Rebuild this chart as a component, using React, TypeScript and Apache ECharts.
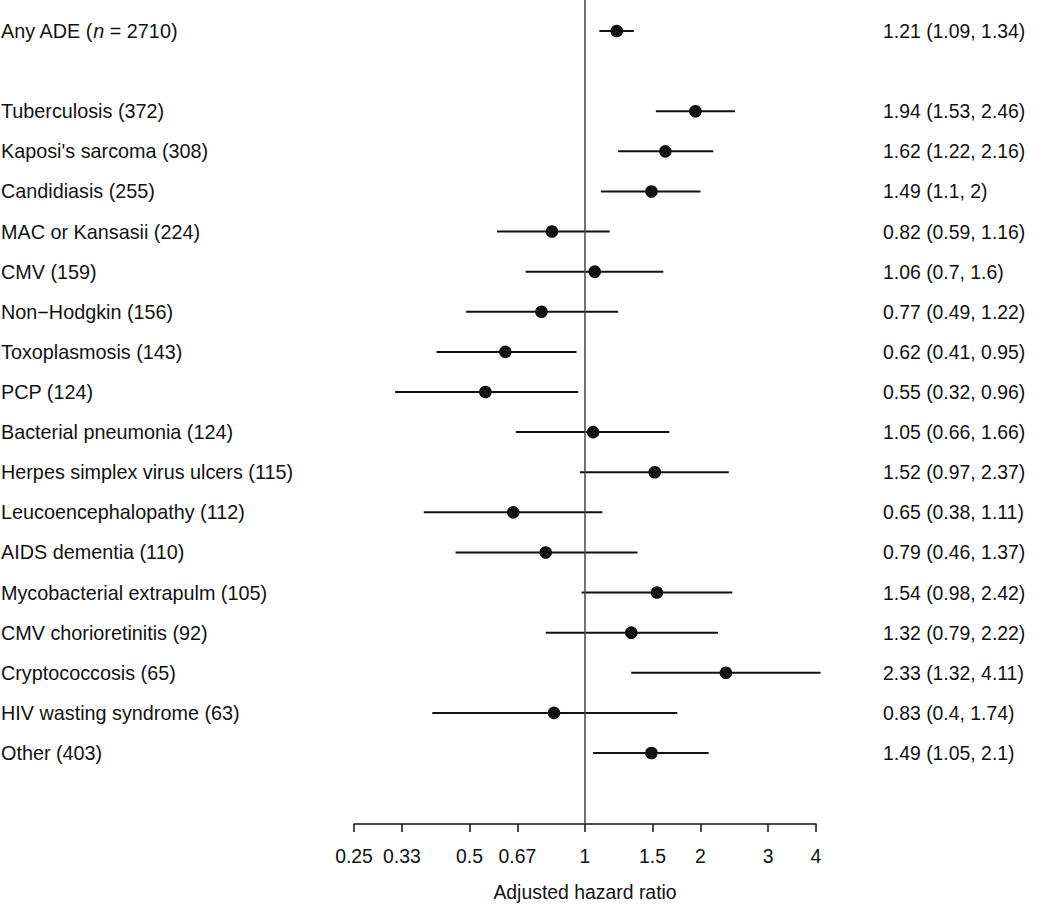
import React, { useEffect, useRef } from "react";
import * as echarts from "echarts";

const names = ["Any ADE", "Tuberculosis", "Kaposi's sarcoma", "Candidiasis", "MAC or Kansasii", "CMV", "Non\u2212Hodgkin", "Toxoplasmosis", "PCP", "Bacterial pneumonia", "Herpes simplex virus ulcers", "Leucoencephalopathy", "AIDS dementia", "Mycobacterial extrapulm", "CMV chorioretinitis", "Cryptococcosis", "HIV wasting syndrome", "Other"];
const counts = [2710, 372, 308, 255, 224, 159, 156, 143, 124, 124, 115, 112, 110, 105, 92, 65, 63, 403];
const hr = [1.21, 1.94, 1.62, 1.49, 0.82, 1.06, 0.77, 0.62, 0.55, 1.05, 1.52, 0.65, 0.79, 1.54, 1.32, 2.33, 0.83, 1.49];
const lo = [1.09, 1.53, 1.22, 1.1, 0.59, 0.7, 0.49, 0.41, 0.32, 0.66, 0.97, 0.38, 0.46, 0.98, 0.79, 1.32, 0.4, 1.05];
const hi = [1.34, 2.46, 2.16, 2, 1.16, 1.6, 1.22, 0.95, 0.96, 1.66, 2.37, 1.11, 1.37, 2.42, 2.22, 4.11, 1.74, 2.1];
const tickValues = [0.25, 1 / 3, 0.5, 2 / 3, 1, 1.5, 2, 3, 4];
const tickLabels = ["0.25", "0.33", "0.5", "0.67", "1", "1.5", "2", "3", "4"];

const FONT = "'Liberation Sans', Arial, Helvetica, sans-serif";
const FS_LEFT = 19.8;
const FS = 19.4;
const INK = "#111";

export default function App() {
  const ref = useRef<HTMLDivElement>(null);
  useEffect(() => {
    if (!ref.current) return;
    const chart = echarts.init(ref.current, null, { renderer: "svg" });
    const l2 = (v: number) => Math.log2(v);
    const data = hr.map((h, i) => [l2(h), i === 0 ? 0 : i + 1, l2(lo[i]), l2(hi[i]), i]);
    const tickLog = tickValues.map(l2);
    const option: any = {
      animation: false,
      grid: { left: 354, right: 234, top: 0, bottom: 80, containLabel: false, outerBoundsMode: "none" },
      xAxis: {
        type: "value",
        position: "bottom",
        min: -2,
        max: 2,
        splitLine: { show: false },
        axisLine: { show: true, onZero: false, lineStyle: { color: INK, width: 1.5 } },
        axisTick: { show: true, customValues: tickLog, length: 8, lineStyle: { color: INK, width: 1.5 } },
        axisLabel: {
          customValues: tickLog,
          margin: 22,
          fontFamily: FONT,
          fontSize: FS,
          color: INK,
          formatter: (v: number) => {
            let best = 0;
            tickLog.forEach((t, k) => { if (Math.abs(t - v) < Math.abs(tickLog[best] - v)) best = k; });
            return tickLabels[best];
          },
        },
        name: "Adjusted hazard ratio",
        nameLocation: "middle",
        nameGap: 58,
        nameTextStyle: { fontFamily: FONT, fontSize: FS, color: INK },
      },
      yAxis: {
        type: "value",
        inverse: true,
        min: -0.773,
        max: 19.77,
        show: false,
      },
      series: [
        {
          type: "custom",
          clip: false,
          encode: { x: [0, 2, 3], y: 1 },
          data,
          renderItem: (params: any, api: any) => {
            const idx = api.value(4);
            const row = api.value(1);
            const p = api.coord([api.value(0), row]);
            const a = api.coord([api.value(2), row]);
            const b = api.coord([api.value(3), row]);
            const label = idx === 0 ? `${names[idx]} ({i|n} = ${counts[idx]})` : `${names[idx]} (${counts[idx]})`;
            const right = `${hr[idx]} (${lo[idx]}, ${hi[idx]})`;
            return {
              type: "group",
              children: [
                { type: "line", shape: { x1: a[0], y1: a[1], x2: b[0], y2: b[1] }, style: { stroke: INK, lineWidth: 2 } },
                { type: "circle", shape: { cx: p[0], cy: p[1], r: 6.3 }, style: { fill: INK } },
                {
                  type: "text",
                  style: {
                    text: label, x: 1, y: p[1], verticalAlign: "middle", align: "left",
                    font: `${FS_LEFT}px ${FONT}`, fill: INK,
                    rich: { i: { fontStyle: "italic", fontFamily: FONT, fontSize: FS_LEFT, fill: INK } },
                  },
                },
                {
                  type: "text",
                  style: { text: right, x: 883, y: p[1], verticalAlign: "middle", align: "left", font: `${FS}px ${FONT}`, fill: INK },
                },
              ],
            };
          },
          markLine: {
            silent: true,
            symbol: "none",
            label: { show: false },
            lineStyle: { color: "#444", width: 1.5, type: "solid" },
            data: [{ xAxis: 0 }],
          },
        },
      ],
    };
    chart.setOption(option);
    return () => chart.dispose();
  }, []);
  return <div ref={ref} style={{ position: "absolute", left: 0, top: 0, width: 1050, height: 904 }} />;
}
